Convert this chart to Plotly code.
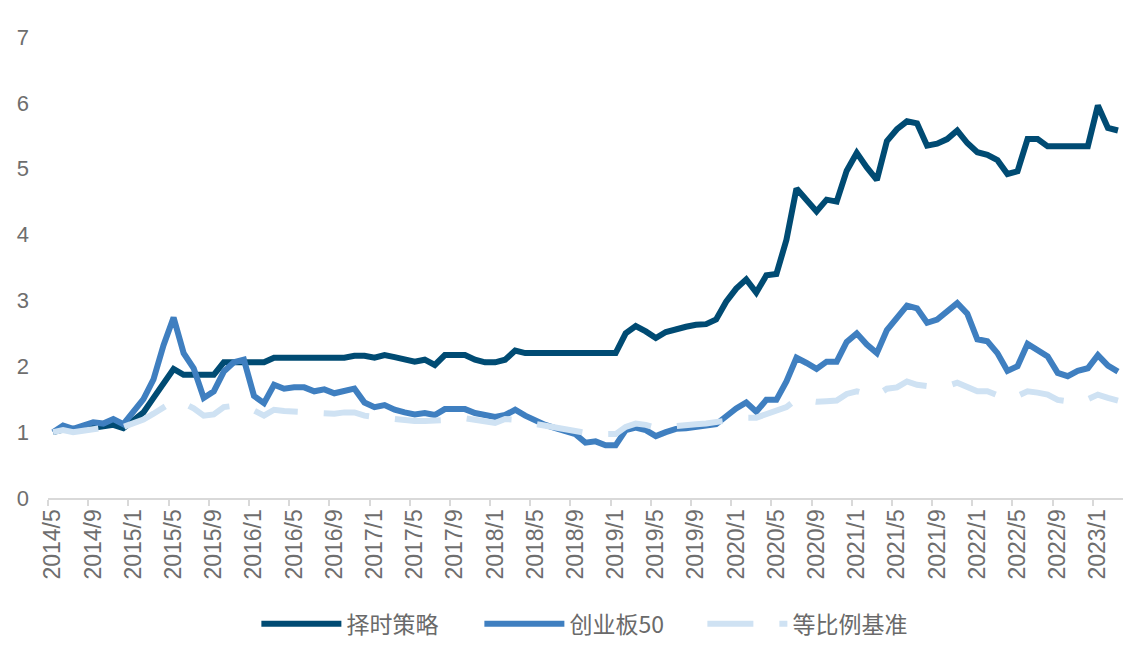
import plotly.graph_objects as go

# Categories: monthly from 2014/5 to 2023/3
months = []
y, m = 2014, 5
while (y, m) <= (2023, 3):
    months.append(f"{y}/{m}")
    m += 1
    if m > 12:
        m = 1
        y += 1

timing_strategy = [
    1.00, 1.04, 1.02, 1.05, 1.08, 1.09, 1.11, 1.06, 1.18, 1.30,
    1.52, 1.76, 1.96, 1.87, 1.87, 1.87, 1.87, 2.06, 2.06, 2.06,
    2.06, 2.06, 2.13, 2.13, 2.13, 2.13, 2.13, 2.13, 2.13, 2.13,
    2.16, 2.16, 2.13, 2.17, 2.14, 2.10, 2.07, 2.10, 2.02, 2.17,
    2.17, 2.17, 2.10, 2.06, 2.06, 2.10, 2.24, 2.20, 2.20, 2.20,
    2.20, 2.20, 2.20, 2.20, 2.20, 2.20, 2.20, 2.50, 2.61, 2.53,
    2.43, 2.52, 2.57, 2.60, 2.63, 2.64, 2.71, 2.98, 3.18, 3.32,
    3.12, 3.38, 3.40, 3.92, 4.70, 4.53, 4.35, 4.53, 4.50, 4.97,
    5.24, 5.02, 4.83, 5.42, 5.60, 5.72, 5.69, 5.35, 5.38, 5.45,
    5.58, 5.39, 5.25, 5.21, 5.13, 4.92, 4.96, 5.45, 5.45, 5.34,
    5.34, 5.34, 5.34, 5.34, 5.96, 5.62, 5.58,
]

chinext50 = [
    1.00, 1.10, 1.05, 1.09, 1.15, 1.13, 1.20, 1.12, 1.30, 1.50,
    1.80, 2.32, 2.74, 2.20, 1.97, 1.52, 1.62, 1.92, 2.06, 2.10,
    1.55, 1.44, 1.72, 1.66, 1.68, 1.68, 1.62, 1.65, 1.59, 1.62,
    1.66, 1.45, 1.38, 1.41, 1.34, 1.30, 1.27, 1.29, 1.26, 1.35,
    1.35, 1.35, 1.29, 1.26, 1.23, 1.26, 1.34, 1.25, 1.17, 1.11,
    1.06, 1.01, 0.97, 0.84, 0.86, 0.80, 0.80, 1.03, 1.07, 1.03,
    0.94, 1.00, 1.05, 1.06, 1.07, 1.10, 1.12, 1.24, 1.36, 1.45,
    1.31, 1.49, 1.49, 1.77, 2.13, 2.05, 1.96, 2.07, 2.07, 2.37,
    2.50, 2.33, 2.20, 2.55, 2.75, 2.92, 2.88, 2.66, 2.71, 2.85,
    2.96, 2.80, 2.41, 2.38, 2.20, 1.93, 2.00, 2.34, 2.25, 2.15,
    1.90, 1.85, 1.93, 1.97, 2.17, 2.01, 1.92,
]

equal_weight = [
    1.00, 1.03, 1.00, 1.02, 1.05, 1.08, 1.09, 1.08, 1.13, 1.19,
    1.28, 1.38, 1.47, 1.44, 1.36, 1.25, 1.27, 1.38, 1.40, 1.38,
    1.33, 1.25, 1.34, 1.32, 1.31, 1.31, 1.31, 1.28, 1.28, 1.30,
    1.30, 1.25, 1.22, 1.21, 1.20, 1.18, 1.17, 1.17, 1.17, 1.17,
    1.19, 1.21, 1.18, 1.15, 1.14, 1.20, 1.19, 1.15, 1.12, 1.10,
    1.08, 1.05, 1.02, 0.99, 0.97, 0.96, 0.97, 1.08, 1.13, 1.11,
    1.07, 1.08, 1.10, 1.11, 1.12, 1.13, 1.15, 1.19, 1.21, 1.22,
    1.22, 1.27, 1.31, 1.38, 1.50, 1.48, 1.46, 1.47, 1.48, 1.58,
    1.62, 1.58, 1.56, 1.66, 1.68, 1.77, 1.72, 1.70, 1.69, 1.70,
    1.75, 1.69, 1.62, 1.62, 1.56, 1.50, 1.55, 1.62, 1.60, 1.57,
    1.49, 1.46, 1.45, 1.50, 1.57, 1.52, 1.48,
]

series_names = ["择时策略", "创业板50", "等比例基准"]
series_colors = ["#004b73", "#3f7fc0", "#cfe2f3"]

fig = go.Figure()
fig.add_trace(go.Scatter(x=months, y=timing_strategy, mode="lines", name=series_names[0],
                         line=dict(color=series_colors[0], width=6)))
fig.add_trace(go.Scatter(x=months, y=chinext50, mode="lines", name=series_names[1],
                         line=dict(color=series_colors[1], width=6)))
fig.add_trace(go.Scatter(x=months, y=equal_weight, mode="lines", name=series_names[2],
                         line=dict(color=series_colors[2], width=6, dash="46px,26px")))

fig.update_layout(
    width=1137, height=651,
    margin=dict(l=48, r=14, t=37, b=153, autoexpand=False),
    paper_bgcolor="white", plot_bgcolor="white",
    font=dict(family="Liberation Sans, Arial, Noto Sans CJK SC", color="#6e6e6e"),
    showlegend=True,
    legend=dict(orientation="h", x=0.505, xanchor="center", y=-0.273, yanchor="middle",
                font=dict(size=23, color="#6a6a6a", family="Noto Sans CJK SC, Liberation Sans"),
                itemwidth=80, entrywidth=128, entrywidthmode="pixels", traceorder="normal"),
)
fig.update_xaxes(
    type="category", range=[-0.5, len(months) - 0.5],
    tickmode="linear", tick0=0, dtick=4, tickson="boundaries",
    ticks="outside", ticklen=6, tickcolor="#d9d9d9", tickwidth=1.5,
    showline=True, linecolor="#d9d9d9", linewidth=2,
    showgrid=False, zeroline=False, automargin=False,
    tickangle=-90, tickfont=dict(size=23, color="#6e6e6e"),
)
fig.update_yaxes(
    range=[0, 7], dtick=1, tick0=0, automargin=False,
    showgrid=False, zeroline=False, showline=False, ticks="",
    tickfont=dict(size=22, color="#6e6e6e"), ticklabelstandoff=18,
)

fig.write_html("out.html", config={"displayModeBar": False},
               post_script="document.body.style.margin='0';document.body.style.overflow='hidden';")
